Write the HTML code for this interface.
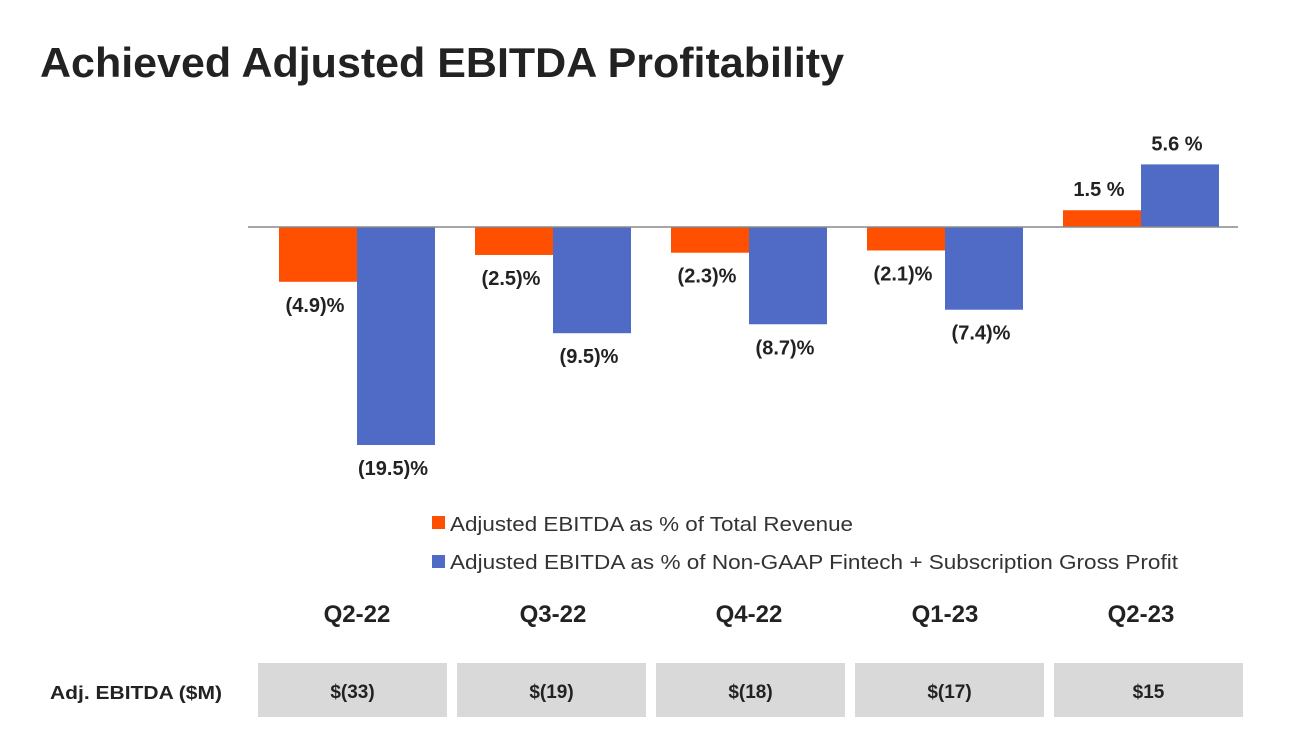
<!DOCTYPE html>
<html><head><meta charset="utf-8"><style>
html,body{margin:0;padding:0;background:#fff;}
svg{display:block;font-family:"Liberation Sans",Arial,sans-serif;}
</style></head><body>
<svg id="chart" width="1292" height="742" viewBox="0 0 1292 742">
<text x="40" y="77" font-size="42" font-weight="bold" fill="#222" textLength="804" lengthAdjust="spacingAndGlyphs">Achieved Adjusted EBITDA Profitability</text>
<g id="bars"></g>
<line x1="248" y1="227" x2="1238" y2="227" stroke="#888" stroke-width="1.5"/>
<g>
<rect x="432" y="516" width="13" height="13" fill="#ff4f00"/>
<text x="450" y="531" font-size="20" fill="#333" textLength="403" lengthAdjust="spacingAndGlyphs">Adjusted EBITDA as % of Total Revenue</text>
<rect x="432" y="555" width="13" height="13" fill="#4f6bc6"/>
<text x="450" y="569" font-size="20" fill="#333" textLength="728" lengthAdjust="spacingAndGlyphs">Adjusted EBITDA as % of Non-GAAP Fintech + Subscription Gross Profit</text>
</g>
<text x="50" y="699" font-size="18" font-weight="bold" fill="#222" textLength="172" lengthAdjust="spacingAndGlyphs">Adj. EBITDA ($M)</text>
<g id="table"></g>
</svg>
<script>
const quarters = ["Q2-22","Q3-22","Q4-22","Q1-23","Q2-23"];
const revenuePct = [-4.9,-2.5,-2.3,-2.1,1.5];
const grossProfitPct = [-19.5,-9.5,-8.7,-7.4,5.6];
const ebitdaM = ["$(33)","$(19)","$(18)","$(17)","$15"];

const NS="http://www.w3.org/2000/svg";
const y0=227, pxPerPct=11.18, groupStart=279, groupStep=196, barW=78;
const yScale=v=>y0-v*pxPerPct;
const xGroup=i=>groupStart+i*groupStep;
const fmt=v=>v<0?"("+Math.abs(v).toFixed(1)+")%":v.toFixed(1)+" %";
const bars=document.getElementById('bars');
const table=document.getElementById('table');
function mk(tag,attrs,parent){const e=document.createElementNS(NS,tag);for(const k in attrs)e.setAttribute(k,attrs[k]);parent.appendChild(e);return e;}
quarters.forEach((q,i)=>{
  [[revenuePct,"#ff4f00",0,"revenue"],[grossProfitPct,"#4f6bc6",1,"gross-profit"]].forEach(([arr,col,k,nm])=>{
    const v=arr[i],x=xGroup(i)+k*barW,y=yScale(v);
    const r=mk('rect',{x:x,y:Math.min(y,y0),width:barW,height:Math.abs(y-y0),fill:col},bars);
    
    
    const ty=v<0?y+30:y-14;
    const t=mk('text',{x:x+barW/2-3,y:ty,'font-size':20,'font-weight':'bold','text-anchor':'middle',fill:'#222'},bars);
    t.textContent=fmt(v);
    
    
  });
  const cx=xGroup(i)+barW;
  const ql=mk('text',{x:cx,y:622,'font-size':24,'font-weight':'bold','text-anchor':'middle',fill:'#222'},table);
  ql.textContent=q;
  
  
  const bx=258+i*199;
  const box=mk('rect',{x:bx,y:663,width:189,height:54,fill:'#d9d9d9'},table);
  
  
  const bt=mk('text',{x:bx+94.5,y:698,'font-size':19,'font-weight':'bold','text-anchor':'middle',fill:'#222'},table);
  bt.textContent=ebitdaM[i];
  
  
});
</script>
</body></html>
